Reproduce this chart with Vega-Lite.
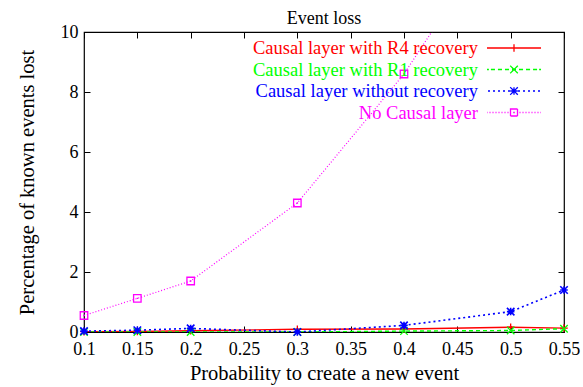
{
  "$schema": "https://vega.github.io/schema/vega-lite/v6.json",
  "width": 480,
  "height": 300,
  "autosize": {"type": "none"},
  "padding": {"left": 84, "top": 32, "right": 19, "bottom": 55},
  "background": "white",
  "title": {"text": "Event loss", "font": "Liberation Serif", "fontSize": 18, "fontWeight": "normal", "color": "black", "anchor": "middle", "offset": 8, "dy": 13},
  "config": {
    "view": {"stroke": "black", "strokeWidth": 1.2},
    "font": "Liberation Serif",
    "axis": {"grid": false, "domain": false, "labelFlush": false, "tickColor": "black", "tickSize": -6, "tickWidth": 1, "labelFont": "Liberation Serif", "labelFontSize": 18, "labelColor": "black", "titleFont": "Liberation Serif", "titleFontSize": 20.5, "titleFontWeight": "normal", "titleColor": "black"}
  },
  "data": {"values": [
    {"series": "Causal layer with R4 recovery", "p": 0.1, "v": 0.01},
    {"series": "Causal layer with R4 recovery", "p": 0.15, "v": 0.02},
    {"series": "Causal layer with R4 recovery", "p": 0.2, "v": 0.04},
    {"series": "Causal layer with R4 recovery", "p": 0.3, "v": 0.09},
    {"series": "Causal layer with R4 recovery", "p": 0.4, "v": 0.1},
    {"series": "Causal layer with R4 recovery", "p": 0.5, "v": 0.16},
    {"series": "Causal layer with R4 recovery", "p": 0.55, "v": 0.13},
    {"series": "Causal layer with R1 recovery", "p": 0.1, "v": 0.0},
    {"series": "Causal layer with R1 recovery", "p": 0.15, "v": 0.0},
    {"series": "Causal layer with R1 recovery", "p": 0.2, "v": 0.0},
    {"series": "Causal layer with R1 recovery", "p": 0.3, "v": 0.0},
    {"series": "Causal layer with R1 recovery", "p": 0.4, "v": 0.03},
    {"series": "Causal layer with R1 recovery", "p": 0.5, "v": 0.05},
    {"series": "Causal layer with R1 recovery", "p": 0.55, "v": 0.11},
    {"series": "Causal layer without recovery", "p": 0.1, "v": 0.03},
    {"series": "Causal layer without recovery", "p": 0.15, "v": 0.06},
    {"series": "Causal layer without recovery", "p": 0.2, "v": 0.12},
    {"series": "Causal layer without recovery", "p": 0.3, "v": 0.0},
    {"series": "Causal layer without recovery", "p": 0.4, "v": 0.22},
    {"series": "Causal layer without recovery", "p": 0.5, "v": 0.68},
    {"series": "Causal layer without recovery", "p": 0.55, "v": 1.4},
    {"series": "No Causal layer", "p": 0.1, "v": 0.55},
    {"series": "No Causal layer", "p": 0.15, "v": 1.12},
    {"series": "No Causal layer", "p": 0.2, "v": 1.7},
    {"series": "No Causal layer", "p": 0.3, "v": 4.3},
    {"series": "No Causal layer", "p": 0.4, "v": 8.6},
    {"series": "No Causal layer", "p": 0.5, "v": 14.0}
  ]},
  "encoding": {
    "x": {"field": "p", "type": "quantitative", "scale": {"domain": [0.1, 0.55], "nice": false, "zero": false}, "axis": null},
    "y": {"field": "v", "type": "quantitative", "scale": {"domain": [0, 10], "nice": false}, "axis": null},
    "color": {"field": "series", "type": "nominal",
      "scale": {"domain": ["Causal layer with R4 recovery", "Causal layer with R1 recovery", "Causal layer without recovery", "No Causal layer"], "range": ["#ff0000", "#00ff00", "#0000ff", "#ff00ff"]},
      "legend": null}
  },
  "layer": [
    {
      "transform": [{"filter": "datum.series === 'Causal layer with R4 recovery'"}],
      "mark": {"type": "line", "clip": true, "strokeWidth": 1.4},
      "encoding": {
        "x": {"field": "p", "type": "quantitative", "scale": {"domain": [0.1, 0.55], "nice": false, "zero": false},
          "axis": {"values": [0.1, 0.15, 0.2, 0.25, 0.3, 0.35, 0.4, 0.45, 0.5, 0.55], "format": ".2~f", "title": "Probability to create a new event", "labelPadding": 14, "titlePadding": 5}},
        "y": {"field": "v", "type": "quantitative", "scale": {"domain": [0, 10], "nice": false},
          "axis": {"values": [0, 2, 4, 6, 8, 10], "title": "Percentage of known events lost", "labelPadding": 12, "titlePadding": 23}},
        "color": {"field": "series", "type": "nominal",
          "scale": {"domain": ["Causal layer with R4 recovery", "Causal layer with R1 recovery", "Causal layer without recovery", "No Causal layer"], "range": ["#ff0000", "#00ff00", "#0000ff", "#ff00ff"]},
          "legend": {"title": null, "orient": "none", "legendX": 419, "legendY": 5, "padding": 0, "offset": 0, "symbolSize": 400, "rowPadding": 0.5,
            "labelFont": "Liberation Serif", "labelFontSize": 18.5, "labelLimit": 400,
            "encode": {
              "labels": {"update": {"x": {"value": -25}, "align": {"value": "right"}, "fill": {"scale": "color", "field": "value"}}},
              "symbols": {"update": {
                "fill": {"value": "transparent"},
                "stroke": {"scale": "color", "field": "value"},
                "strokeWidth": {"value": 1.3},
                "strokeDash": {"value": [1, 0]},
                "opacity": {"value": 1},
                "shape": {"signal": "datum.value === 'Causal layer with R4 recovery' ? 'M-2.7,0L2.7,0M0,-0.38L0,0.38' : datum.value === 'Causal layer with R1 recovery' ? 'M-2.7,0L-2.511,0M-2.309,0L-1.904,0M-1.607,0L-1.202,0M-0.905,0L-0.5,0M-0.203,0L0.203,0M0.5,0L0.905,0M1.202,0L1.607,0M1.904,0L2.309,0M2.511,0L2.7,0M-0.38,-0.38L0.38,0.38M-0.38,0.38L0.38,-0.38' : datum.value === 'Causal layer without recovery' ? 'M-2.6,0L-2.4,0M-2.1,0L-1.9,0M-1.6,0L-1.4,0M-1.1,0L-0.9,0M-0.6,0L-0.4,0M-0.1,0L0.1,0M0.4,0L0.6,0M0.9,0L1.1,0M1.4,0L1.6,0M1.9,0L2.1,0M2.4,0L2.6,0M-0.38,0L0.38,0M0,-0.38L0,0.38M-0.38,-0.38L0.38,0.38M-0.38,0.38L0.38,-0.38' : 'M-2.7,0L-2.65,0M-2.45,0L-2.35,0M-2.15,0L-2.05,0M-1.85,0L-1.75,0M-1.55,0L-1.45,0M-1.25,0L-1.15,0M-0.95,0L-0.85,0M-0.65,0L-0.55,0M0.55,0L0.65,0M0.85,0L0.95,0M1.15,0L1.25,0M1.45,0L1.55,0M1.75,0L1.85,0M2.05,0L2.15,0M2.35,0L2.45,0M2.65,0L2.7,0M-0.35,-0.35L0.35,-0.35L0.35,0.35L-0.35,0.35ZM-0.08,0L0.08,0'"}
              }}
            }}}
      }
    },
    {
      "transform": [{"filter": "datum.series === 'Causal layer with R1 recovery'"}],
      "mark": {"type": "line", "clip": true, "strokeWidth": 1.4, "strokeDash": [4, 3]},
      "encoding": {}
    },
    {
      "transform": [{"filter": "datum.series === 'Causal layer without recovery'"}],
      "mark": {"type": "line", "clip": true, "strokeWidth": 1.6, "strokeDash": [2, 3]},
      "encoding": {}
    },
    {
      "transform": [{"filter": "datum.series === 'No Causal layer'"}],
      "mark": {"type": "line", "clip": true, "strokeWidth": 1.2, "strokeDash": [1, 2]},
      "encoding": {}
    },
    {
      "transform": [{"filter": "datum.series === 'Causal layer with R4 recovery'"}],
      "mark": {"type": "point", "filled": false, "strokeWidth": 1.3, "opacity": 1, "size": 56, "shape": "M-1,0L1,0M0,-1L0,1"},
      "encoding": {}
    },
    {
      "transform": [{"filter": "datum.series === 'Causal layer with R1 recovery'"}],
      "mark": {"type": "point", "filled": false, "strokeWidth": 1.3, "opacity": 1, "size": 56, "shape": "M-1,-1L1,1M-1,1L1,-1"},
      "encoding": {}
    },
    {
      "transform": [{"filter": "datum.series === 'Causal layer without recovery'"}],
      "mark": {"type": "point", "filled": false, "strokeWidth": 1.6, "opacity": 1, "size": 56, "shape": "M-1,0L1,0M0,-1L0,1M-1,-1L1,1M-1,1L1,-1"},
      "encoding": {}
    },
    {
      "transform": [{"filter": "datum.series === 'No Causal layer' && datum.v <= 10"}],
      "mark": {"type": "point", "filled": false, "strokeWidth": 1.3, "opacity": 1, "size": 56, "shape": "M-1,-1L1,-1L1,1L-1,1ZM-0.2,0L0.2,0"},
      "encoding": {}
    },
    {
      "transform": [{"filter": "datum.v <= 10"}],
      "mark": {"type": "point", "opacity": 0},
      "encoding": {
        "x": {"field": "p", "type": "quantitative", "scale": {"domain": [0.1, 0.55], "nice": false, "zero": false},
          "axis": {"orient": "top", "values": [0.1, 0.15, 0.2, 0.25, 0.3, 0.35, 0.4, 0.45, 0.5, 0.55], "labels": false, "title": null}},
        "y": {"field": "v", "type": "quantitative", "scale": {"domain": [0, 10], "nice": false},
          "axis": {"orient": "right", "values": [0, 2, 4, 6, 8, 10], "labels": false, "title": null}}
      }
    }
  ],
  "resolve": {"axis": {"x": "independent", "y": "independent"}}
}
